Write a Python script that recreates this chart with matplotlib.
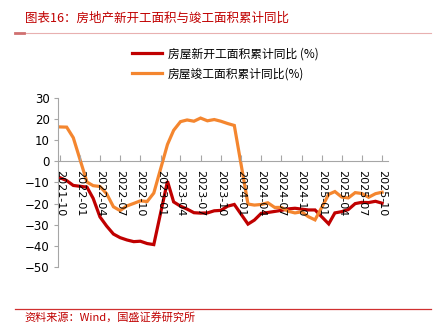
import matplotlib
matplotlib.use("Agg")
import matplotlib.pyplot as plt
from matplotlib.lines import Line2D
import pandas as pd

plt.rcParams['font.family'] = ['Noto Sans CJK SC', 'DejaVu Sans']

# ----------------------------------------------------------------------------
# Data: cumulative YoY (%), Jan is merged into Feb so it is left out
months = ['2021-10', '2021-11', '2021-12',
          '2022-02', '2022-03', '2022-04', '2022-05', '2022-06', '2022-07',
          '2022-08', '2022-09', '2022-10', '2022-11', '2022-12',
          '2023-02', '2023-03', '2023-04', '2023-05', '2023-06', '2023-07',
          '2023-08', '2023-09', '2023-10', '2023-11', '2023-12',
          '2024-02', '2024-03', '2024-04', '2024-05', '2024-06', '2024-07',
          '2024-08', '2024-09', '2024-10', '2024-11', '2024-12',
          '2025-02', '2025-03', '2025-04', '2025-05', '2025-06', '2025-07',
          '2025-08', '2025-09', '2025-10']

new_starts = [-7.7, -9.1, -11.4,
              -12.2, -17.5, -26.3, -30.6, -34.4, -36.1, -37.2, -38.0, -37.8, -38.9, -39.4,
              -9.4, -19.2, -21.2, -22.6, -24.3, -24.5, -24.4, -23.4, -23.2, -21.2, -20.4,
              -29.7, -27.8, -24.6, -24.2, -23.7, -23.2, -22.5, -22.2, -22.6, -23.0, -23.0,
              -29.6, -24.4, -23.8, -22.8, -20.0, -19.4, -19.5, -18.9, -19.8]

completions = [16.3, 16.2, 11.2,
               -9.8, -11.5, -11.9, -15.3, -21.5, -23.3, -21.1, -19.9, -18.7, -19.0, -15.0,
               8.0, 14.7, 18.8, 19.6, 19.0, 20.5, 19.2, 19.8, 19.0, 17.9, 17.0,
               -20.2, -20.7, -20.4, -19.6, -21.8, -21.8, -23.6, -24.4, -23.9, -26.2, -27.7,
               -15.6, -14.3, -16.9, -17.3, -14.8, -15.2, -17.0, -15.3, -14.6]

tick_labels = ['2021-10', '2022-01', '2022-04', '2022-07', '2022-10',
               '2023-01', '2023-04', '2023-07', '2023-10',
               '2024-01', '2024-04', '2024-07', '2024-10',
               '2025-01', '2025-04', '2025-07', '2025-10']

label_new = '房屋新开工面积累计同比 (%)'
label_done = '房屋竣工面积累计同比(%)'
title = '图表16：房地产新开工面积与竣工面积累计同比'
source = '资料来源：Wind，国盛证券研究所'

red = '#C00000'
orange = '#F4862F'
grey = '#A6A6A6'

# ----------------------------------------------------------------------------
dates = pd.to_datetime(months)
tick_dates = pd.to_datetime(tick_labels)

fig = plt.figure(figsize=(4.45, 3.35), dpi=100)
ax = fig.add_axes([0.130, 0.203, 0.742, 0.5045])

ax.plot(dates, new_starts, color=red, lw=2.3, solid_joinstyle='miter')
ax.plot(dates, completions, color=orange, lw=2.3, solid_joinstyle='miter')

ax.set_ylim(-50, 30)
ax.set_yticks(range(-50, 31, 10))
ax.set_xlim(pd.Timestamp('2021-09-22'), pd.Timestamp('2025-10-28'))
ax.set_xticks(tick_dates, tick_labels)

# axes styling: tick labels drawn over the lines, as in the source chart
ax.set_axisbelow(False)
for s in ['top', 'right']:
    ax.spines[s].set_visible(False)
ax.spines['bottom'].set_position(('data', 0))
ax.spines['bottom'].set_color(grey)
ax.spines['left'].set_color(grey)
ax.spines['bottom'].set_zorder(0)
ax.tick_params(axis='x', direction='in', length=4, color=grey, pad=6,
               labelrotation=-90, labelsize=8)
ax.tick_params(axis='y', direction='out', length=3, color=grey, pad=3,
               labelsize=8.5)
for lab in ax.get_xticklabels() + ax.get_yticklabels():
    lab.set_family('DejaVu Sans')

# legend
handles = [Line2D([], [], color=red, lw=2.3), Line2D([], [], color=orange, lw=2.3)]
fig.legend(handles, [label_new, label_done], loc='upper left',
           bbox_to_anchor=(0.296, 0.858), frameon=False, fontsize=8.5,
           handlelength=2.6, handletextpad=0.45, labelspacing=0.55,
           borderpad=0, borderaxespad=0)

# title, rules and source
fig.text(0.056, 0.945, title, color=red, fontsize=9, style='italic',
         va='center', ha='left')
fig.add_artist(Line2D([0.034, 0.968], [0.901, 0.901], color='#E8B0B0', lw=0.8))
fig.add_artist(Line2D([0.034, 0.055], [0.901, 0.901], color='#D07070', lw=2.0))
fig.add_artist(Line2D([0.034, 0.968], [0.078, 0.078], color='#D03030', lw=0.9))
fig.text(0.056, 0.052, source, color=red, fontsize=8, style='italic',
         va='center', ha='left')

plt.savefig('out.png', dpi=100)
